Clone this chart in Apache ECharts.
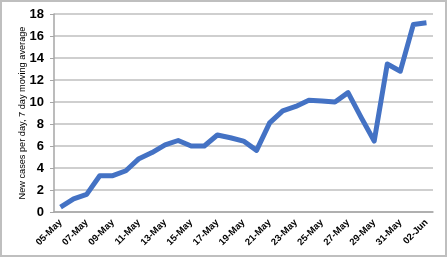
<!DOCTYPE html>
<html><head><meta charset="utf-8">
<script src="https://cdn.jsdelivr.net/npm/echarts@6/dist/echarts.min.js"></script>
<style>html,body{margin:0;padding:0;background:#fff}#c{width:448px;height:258px}</style>
</head><body><div id="c"></div>
<script>
const categories = ['05-May','06-May','07-May','08-May','09-May','10-May','11-May','12-May','13-May','14-May','15-May','16-May','17-May','18-May','19-May','20-May','21-May','22-May','23-May','24-May','25-May','26-May','27-May','28-May','29-May','30-May','31-May','01-Jun','02-Jun'];
const cases = [0.45,1.2,1.6,3.3,3.3,3.75,4.85,5.4,6.1,6.5,6.0,6.0,7.0,6.75,6.45,5.6,8.1,9.2,9.6,10.15,10.1,10.0,10.85,8.6,6.45,13.45,12.8,17.05,17.2];
const yTicks = [0,2,4,6,8,10,12,14,16,18];
const chart = echarts.init(document.getElementById('c'), null, {renderer:'canvas'});
chart.setOption({
  animation:false,
  graphic:[{type:'rect',shape:{x:1,y:1,width:445,height:255},style:{fill:null,stroke:'#bfbfbf',lineWidth:2}}],
  grid:{left:54,right:15,top:14,bottom:46},
  xAxis:{type:'category',data:categories,boundaryGap:true,
    axisLine:{lineStyle:{color:'#a6a6a6',width:1.5}},
    axisTick:{interval:1,length:4,lineStyle:{color:'#a6a6a6'}},
    axisLabel:{interval:1,rotate:45,fontSize:9.5,fontWeight:'bold',color:'#000',fontFamily:'Liberation Sans',margin:9}},
  yAxis:{type:'value',min:yTicks[0],max:yTicks[yTicks.length-1],interval:2,
    name:'New cases per day, 7 day moving average',nameLocation:'middle',nameGap:27,nameMoveOverlap:false,
    nameTextStyle:{fontSize:9.2,color:'#000',fontFamily:'Liberation Sans'},
    axisLine:{show:true,lineStyle:{color:'#a6a6a6',width:1.5}},
    axisTick:{show:true,length:4,lineStyle:{color:'#a6a6a6'}},
    splitLine:{lineStyle:{color:'#bfbfbf',width:1.5}},
    axisLabel:{fontSize:13,fontWeight:'bold',color:'#000',fontFamily:'Liberation Sans',margin:10}},
  series:[{type:'line',data:cases,symbol:'none',lineStyle:{color:'#4472c4',width:5,join:'round'}}]
});
</script></body></html>
